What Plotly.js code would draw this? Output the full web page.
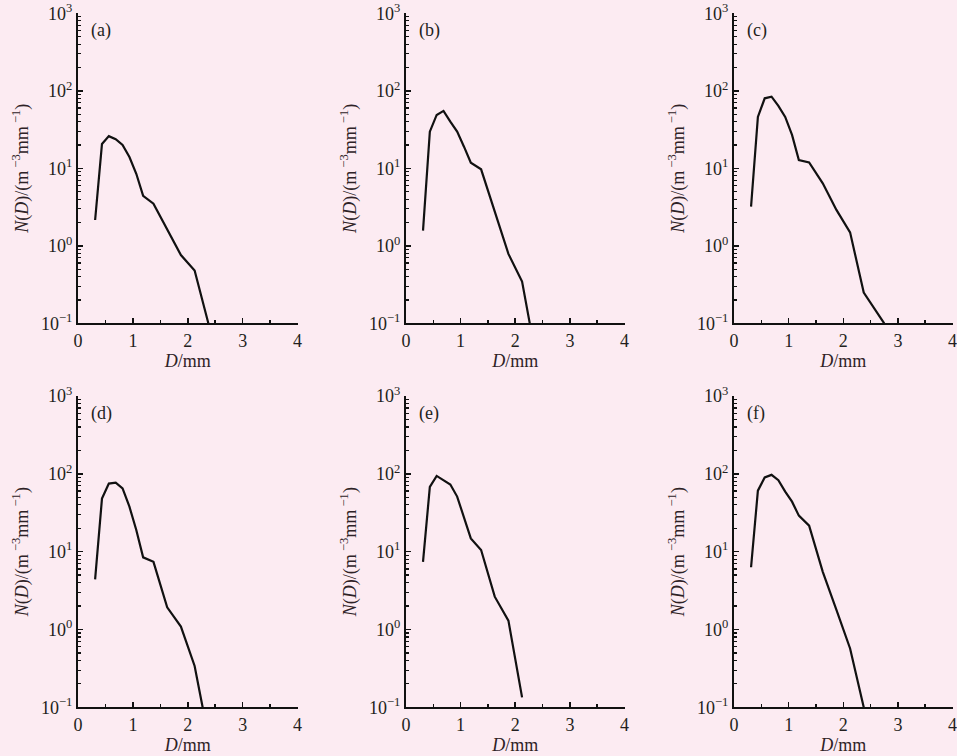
<!DOCTYPE html>
<html>
<head>
<meta charset="utf-8">
<script src="https://cdn.plot.ly/plotly-3.0.1.min.js"></script>
<style>html,body{margin:0;padding:0;background:#fcebf2;}#chart{width:957px;height:756px;}</style>
</head>
<body>
<div id="chart"></div>
<script>
// Diameter bin centres (mm)
const D = [0.312, 0.437, 0.562, 0.687, 0.812, 0.937, 1.062, 1.187, 1.375, 1.625, 1.875, 2.125, 2.375, 2.75];
// N(D) values per panel (m^-3 mm^-1)
const Na = [2.15, 20.6, 26, 23.7, 20, 14, 8.5, 4.4, 3.5, 1.63, 0.76, 0.48, 0.1];
const Nb = [1.57, 29.7, 48.8, 55, 40, 29.7, 19, 11.8, 9.7, 2.76, 0.785, 0.345, 0.038];
const Nc = [3.2, 46, 80, 84, 64, 46, 27, 12.8, 11.9, 6.4, 2.9, 1.49, 0.249, 0.1];
const Nd = [4.4, 48, 75, 77, 65, 37.8, 19, 8.45, 7.4, 1.93, 1.09, 0.34, 0.042];
const Ne = [7.4, 68, 94, 82, 73, 51, 28, 14.8, 10.5, 2.64, 1.3, 0.134];
const Nf = [6.3, 60.8, 90, 97, 83, 59, 43.9, 29, 21.6, 5.5, 1.78, 0.57, 0.1];
const panelLabels = ['(a)', '(b)', '(c)', '(d)', '(e)', '(f)'];
const series = [Na, Nb, Nc, Nd, Ne, Nf];
const xTickVals = [0, 1, 2, 3, 4];
const yTickVals = [0.1, 1, 10, 100, 1000];
const yTickText = ['10<sup>−1</sup>', '10<sup>0</sup>', '10<sup>1</sup>', '10<sup>2</sup>', '10<sup>3</sup>'];

const txt = '#231f20';
const font = {family: 'Liberation Serif, Times New Roman, serif', size: 18, color: txt};
const titleFont = {family: 'Liberation Serif, Times New Roman, serif', size: 18, color: '#2e2226'};
const cols = [[0.0815, 0.3109], [0.4242, 0.6526], [0.767, 0.9953]];
const rows = [[0.5724, 0.9824], [0.0644, 0.4762]];

const minorY = [];
for (let e = -1; e < 3; e++) for (let k = 2; k <= 9; k++) minorY.push(k * Math.pow(10, e));

const traces = [];
const layout = {
  width: 957, height: 756,
  margin: {l: 0, r: 0, t: 0, b: 0},
  paper_bgcolor: '#fcebf2', plot_bgcolor: '#fcebf2',
  showlegend: false, font: font, annotations: []
};

series.forEach((vals, i) => {
  const n = i + 1;
  const sfx = (n === 1 ? '' : String(n));
  const c = cols[i % 3], r = rows[Math.floor(i / 3)];
  traces.push({
    x: D.slice(0, vals.length), y: vals, type: 'scatter', mode: 'lines',
    line: {color: '#111111', width: 2.2},
    xaxis: 'x' + sfx, yaxis: 'y' + sfx,
    hoverinfo: 'skip'
  });
  layout['xaxis' + sfx] = {
    domain: c, anchor: 'y' + sfx, range: [0, 4],
    tickmode: 'array', tickvals: xTickVals,
    ticks: 'inside', ticklen: 5, tickwidth: 1.5, tickcolor: '#111',
    minor: {tickmode: 'array', tickvals: [0.5, 1.5, 2.5, 3.5], ticks: 'inside', ticklen: 3, tickwidth: 1.5, tickcolor: '#111'},
    showline: true, linecolor: '#111', linewidth: 2, showgrid: false, zeroline: false,
    tickfont: font,
    title: {text: '<i>D</i>/mm', font: titleFont, standoff: 0}
  };
  layout['yaxis' + sfx] = {
    domain: r, anchor: 'x' + sfx, type: 'log', range: [-1, 3],
    tickmode: 'array', tickvals: yTickVals, ticktext: yTickText,
    ticks: 'inside', ticklen: 5, tickwidth: 1.5, tickcolor: '#111',
    minor: {tickmode: 'array', tickvals: minorY, ticks: 'inside', ticklen: 3, tickwidth: 1.2, tickcolor: '#111'},
    showline: true, linecolor: '#111', linewidth: 2, showgrid: false, zeroline: false,
    tickfont: font,
    title: {text: '<i>N</i>(<i>D</i>)/(m<sup> −3</sup>mm<sup> −1</sup>)', font: titleFont, standoff: 8}
  };
  layout.annotations.push({
    text: panelLabels[i], xref: 'x' + sfx + ' domain', yref: 'y' + sfx + ' domain',
    x: 0.05, y: 0.945, xanchor: 'left', yanchor: 'middle', showarrow: false, font: font
  });
});

Plotly.newPlot('chart', traces, layout, {staticPlot: true});
</script>
</body>
</html>
